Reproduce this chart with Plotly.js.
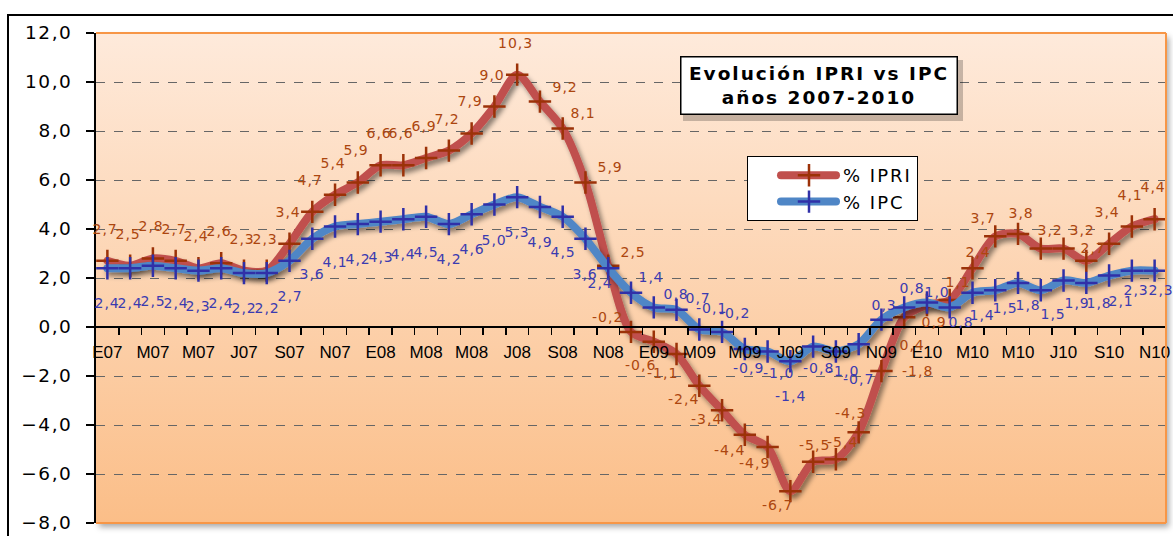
<!DOCTYPE html>
<html><head><meta charset="utf-8">
<script src="https://cdn.plot.ly/plotly-3.0.1.min.js"></script>
<style>
html,body{margin:0;padding:0;background:#fff;width:1173px;height:536px;overflow:hidden;}
#frame{position:absolute;left:7px;top:14px;width:1200px;height:600px;border:2px solid #000;box-sizing:border-box;background:#fff;}
#pshadow{position:absolute;left:96px;top:33px;width:1070px;height:490px;box-shadow:3px 4px 6px rgba(0,0,0,0.35);background:#FBBF8A;}
#chart{position:absolute;left:0;top:0;width:1173px;height:536px;}
.annotation text{letter-spacing:1px;}
.annotation[data-index="0"] text{letter-spacing:2px;}
.legendtext{letter-spacing:2px;}
.ytick text{letter-spacing:1.5px;}
.js-line{stroke-linejoin:round;stroke-linecap:round;}
</style></head>
<body>
<div id="frame"></div><div id="pshadow"></div><div id="chart"></div>
<script>
// ---- data ----
const monthCodes = ['E07','F07','M07','A07','M07','J07','J07','A07','S07','O07','N07','D07',
                    'E08','F08','M08','A08','M08','J08','J08','A08','S08','O08','N08','D08',
                    'E09','F09','M09','A09','M09','J09','J09','A09','S09','O09','N09','D09',
                    'E10','F10','M10','A10','M10','J10','J10','A10','S10','O10','N10'];
const ipri = [2.7,2.5,2.8,2.7,2.4,2.6,2.3,2.3,3.4,4.7,5.4,5.9,
              6.6,6.6,6.9,7.2,7.9,9.0,10.3,9.2,8.1,5.9,2.5,-0.2,
              -0.6,-1.1,-2.4,-3.4,-4.4,-4.9,-6.7,-5.5,-5.4,-4.3,-1.8,0.4,
              0.9,1.1,2.4,3.7,3.8,3.2,3.2,2.7,3.4,4.1,4.4];
const ipc  = [2.4,2.4,2.5,2.4,2.3,2.4,2.2,2.2,2.7,3.6,4.1,4.2,
              4.3,4.4,4.5,4.2,4.6,5.0,5.3,4.9,4.5,3.6,2.4,1.4,
              0.8,0.7,-0.1,-0.2,-0.9,-1.0,-1.4,-0.8,-1.0,-0.7,0.3,0.8,
              1.0,0.8,1.4,1.5,1.8,1.5,1.9,1.8,2.1,2.3,2.3];
const seriesNames = ['% IPRI','% IPC'];
const titleText = 'Evolución IPRI vs IPC<br>años 2007-2010';
const yMin = -8, yMax = 12;

// ---- label placement offsets (screen px: [dx, dy], dy down) ----
const redDefault = [-2,-32], blueDefault = [0,35];
const redOff = {19:[25,-15],20:[20,-16],21:[25,-15],22:[25,-14],23:[-24,-15],24:[-13,23],25:[-14,19],
  26:[-16,13],27:[-16,9],28:[-15,15],29:[-13,16],30:[-13,14],31:[1,-17],32:[7,-17],33:[-8,-19],
  34:[36,0],35:[8,28],36:[7,17],37:[8,-18],38:[6,-16],39:[-12,-18],40:[3,-21],41:[9,-19],42:[18,-19],43:[7,-13]};
const blueOff = {22:[-8,15],23:[20,-16],24:[22,-13],25:[21,-12],26:[12,-21],27:[12,-19],28:[4,19],29:[11,21],
  31:[5,21],32:[8,19],34:[3,-15],35:[8,-19],36:[10,-11],37:[11,15],38:[10,22],39:[10,18],40:[10,22],
  41:[12,24],42:[13,23],43:[13,20],44:[12,25],45:[4,19],46:[6,19]};

const xIdx = monthCodes.map((_, i) => i);
const tickIdx = xIdx.filter(i => i % 2 === 0);
const tickTxt = tickIdx.map(i => monthCodes[i]);
const boundaries = xIdx.slice(0, -1).map(i => i + 0.5);
const fmt = v => v.toFixed(1).replace('.', ',');

const redLine = '#C0504D', redMark = '#9C3208', redText = '#AC460F';
const blueLine = '#4F86C6', blueMark = '#3030A8', blueText = '#3B3BB0';

const traces = [
  {x: xIdx, y: ipri, name: seriesNames[0], type: 'scatter', mode: 'lines+markers',
   line: {color: redLine, width: 8, shape: 'spline', smoothing: 0.8},
   marker: {symbol: 'cross-thin', size: 16, color: redMark, line: {color: redMark, width: 2.5}},
   legendgroup: 'a'},
  {x: xIdx, y: ipc, name: seriesNames[1], type: 'scatter', mode: 'lines+markers',
   line: {color: blueLine, width: 8, shape: 'spline', smoothing: 0.8},
   marker: {symbol: 'cross-thin', size: 16, color: blueMark, line: {color: blueMark, width: 2.5}},
   legendgroup: 'b'}
];

const L = 96, T = 33, PW = 1070, PH = 490;
const px2x = p => (p - L) / PW;
const px2y = p => (T + PH - p) / PH;

const annotations = [{
  text: titleText, xref: 'paper', yref: 'paper', x: px2x(818.5), y: px2y(86),
  xanchor: 'center', yanchor: 'middle', showarrow: false,
  font: {family: 'DejaVu Sans', size: 18.5, color: '#000', weight: 'bold'},
  bgcolor: '#fff', bordercolor: '#000', borderwidth: 1.5, borderpad: 1, width: 273, height: 54
}];
const labFont = (c) => ({family: 'DejaVu Sans', size: 14, color: c});
ipri.forEach((v, i) => {
  const o = redOff[i] || redDefault;
  annotations.push({x: i, y: v, xref: 'x', yref: 'y', text: fmt(v), showarrow: false,
    xanchor: 'center', yanchor: 'middle', xshift: o[0], yshift: -o[1], font: labFont(redText)});
});
ipc.forEach((v, i) => {
  const o = blueOff[i] || blueDefault;
  annotations.push({x: i, y: v, xref: 'x', yref: 'y', text: fmt(v), showarrow: false,
    xanchor: 'center', yanchor: 'middle', xshift: o[0], yshift: -o[1], font: labFont(blueText)});
});

const bgSvg = "<svg xmlns='http://www.w3.org/2000/svg' width='100' height='100' preserveAspectRatio='none'>" +
  "<defs><linearGradient id='g' x1='0' y1='0' x2='0' y2='1'><stop offset='0' stop-color='#FEEADB'/>" +
  "<stop offset='1' stop-color='#FBBE88'/></linearGradient></defs><rect width='100' height='100' fill='url(#g)'/></svg>";

const orange = '#F79646';
const layout = {
  width: 1173, height: 536,
  margin: {l: L, r: 1173 - L - PW, t: T, b: 536 - T - PH},
  paper_bgcolor: 'rgba(0,0,0,0)', plot_bgcolor: 'rgba(0,0,0,0)',
  separators: ',.',
  showlegend: true,
  legend: {x: px2x(747), y: px2y(156), xanchor: 'left', yanchor: 'top', bgcolor: '#fff',
    bordercolor: '#000', borderwidth: 1, font: {family: 'DejaVu Sans', size: 18, color: '#000'},
    traceorder: 'grouped', tracegroupgap: 0, itemwidth: 85},
  xaxis: {range: [-0.5, xIdx.length - 0.5], tickvals: tickIdx, ticktext: tickTxt, ticks: '',
    showgrid: false, zeroline: false, showline: true, linecolor: '#000', linewidth: 2,
    anchor: 'free', position: (0 - yMin) / (yMax - yMin), ticklabelstandoff: 10,
    tickfont: {family: 'Liberation Sans', size: 17, color: '#000'},
    minor: {tickvals: boundaries, ticks: 'outside', ticklen: 7, tickcolor: '#000', tickwidth: 1.5, showgrid: false}},
  yaxis: {range: [yMin, yMax], dtick: 2, tick0: 0, tickformat: '.1f', showline: true, linecolor: '#000',
    linewidth: 2, ticks: 'outside', ticklen: 8, tickcolor: '#000', tickwidth: 1.5,
    showgrid: true, gridcolor: '#666', griddash: 'dash', gridwidth: 1, zeroline: false,
    ticklabelstandoff: 10,
    tickfont: {family: 'DejaVu Sans', size: 18.5, color: '#000'}},
  images: [{source: 'data:image/svg+xml;charset=utf-8,' + encodeURIComponent(bgSvg),
    xref: 'paper', yref: 'paper', x: 0, y: 1, sizex: 1, sizey: 1, xanchor: 'left', yanchor: 'top',
    sizing: 'stretch', layer: 'below'}],
  shapes: [
    {type: 'line', xref: 'paper', yref: 'paper', x0: 0, x1: 1, y0: 1, y1: 1, line: {color: orange, width: 2}},
    {type: 'line', xref: 'paper', yref: 'paper', x0: 1, x1: 1, y0: 0, y1: 1, line: {color: orange, width: 2}},
    {type: 'line', xref: 'paper', yref: 'paper', x0: 0, x1: 1, y0: 0, y1: 0, line: {color: orange, width: 2}},
    {type: 'rect', xref: 'paper', yref: 'paper', x0: px2x(683), x1: px2x(963), y0: px2y(121), y1: px2y(60),
     fillcolor: 'rgba(0,0,0,0.22)', line: {width: 0}, layer: 'above'}
  ],
  annotations: annotations
};

Plotly.newPlot('chart', traces, layout, {displayModeBar: false, staticPlot: true}).then(gd => {
  const svg = gd.querySelector('svg.main-svg');
  const ns = 'http://www.w3.org/2000/svg';
  let defs = svg.querySelector('defs');
  if (!defs) { defs = document.createElementNS(ns, 'defs'); svg.insertBefore(defs, svg.firstChild); }
  const f = document.createElementNS(ns, 'filter');
  f.setAttribute('id', 'lineShadow');
  f.setAttribute('x', '-10%'); f.setAttribute('y', '-10%');
  f.setAttribute('width', '125%'); f.setAttribute('height', '130%');
  const ds = document.createElementNS(ns, 'feDropShadow');
  ds.setAttribute('dx', '3'); ds.setAttribute('dy', '4'); ds.setAttribute('stdDeviation', '2.5');
  ds.setAttribute('flood-color', '#000'); ds.setAttribute('flood-opacity', '0.45');
  f.appendChild(ds); defs.appendChild(f);
  gd.querySelectorAll('.scatterlayer .js-line').forEach(p => p.setAttribute('filter', 'url(#lineShadow)'));
  // widen legend symbols to match the reference key
  gd.querySelectorAll('.legend .legendlines path').forEach(p => p.setAttribute('d', 'M33,0h55'));
  gd.querySelectorAll('.legend .legendpoints path').forEach(p => p.setAttribute('transform', 'translate(61,0)'));
});
</script>
</body></html>
